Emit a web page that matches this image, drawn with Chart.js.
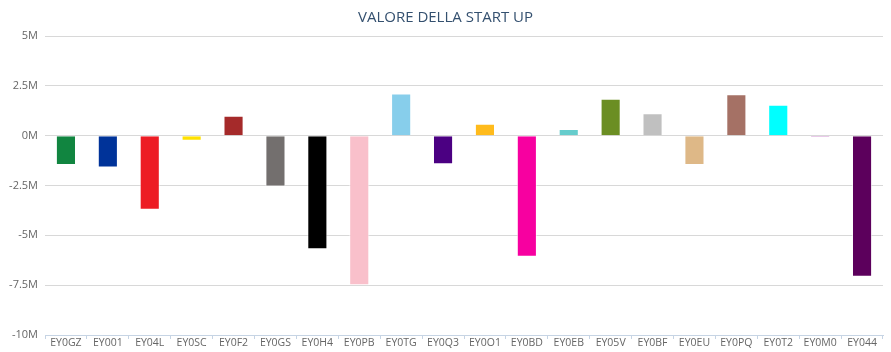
<!DOCTYPE html>
<html>
<head>
<meta charset="utf-8">
<script src="https://cdn.jsdelivr.net/npm/chart.js@4"></script>
<style>
  html, body { margin: 0; padding: 0; background: #fff; }
  #wrap { width: 891px; height: 352px; }
</style>
</head>
<body>
<div id="wrap"><canvas id="chart" width="891" height="352"></canvas></div>
<script>
/* ===== data ===== */
const categories = ["EY0GZ", "EY001", "EY04L", "EY0SC", "EY0F2", "EY0GS", "EY0H4", "EY0PB", "EY0TG", "EY0Q3",
  "EY0O1", "EY0BD", "EY0EB", "EY05V", "EY0BF", "EY0EU", "EY0PQ", "EY0T2", "EY0M0", "EY044"];
const values = [-1.47, -1.6, -3.72, -0.25, 1.0, -2.55, -5.7, -7.5, 2.12, -1.43,
  0.6, -6.07, 0.33, 1.85, 1.13, -1.47, 2.08, 1.55, -0.12, -7.08].map(v => v * 1e6);
const barColors = ["#118540", "#003399", "#ed1c24", "#ffe100", "#a52a2a", "#736f6e", "#000000", "#f9c0cb", "#87ceeb", "#4b0082",
  "#ffbb1c", "#f700a0", "#66cccc", "#6b8e23", "#c0c0c0", "#deb887", "#a57165", "#00ffff", "#d8a0d8", "#5c005c"];
const yTicks = [5e6, 2.5e6, 0, -2.5e6, -5e6, -7.5e6, -10e6];

/* ===== chart ===== */
new Chart(document.getElementById("chart"), {
  type: "bar",
  data: {
    labels: categories,
    datasets: [{
      data: values,
      backgroundColor: barColors,
      borderColor: "rgba(255,255,255,0.6)",
      borderWidth: 1,
      categoryPercentage: 0.48,
      barPercentage: 1
    }]
  },
  options: {
    responsive: false,
    animation: false,
    layout: { padding: { left: 8, right: 8, top: 0, bottom: 0 } },
    plugins: {
      legend: { display: false },
      tooltip: { enabled: false },
      title: {
        display: true,
        text: "VALORE DELLA START UP",
        color: "#34506f",
        font: { family: "Open Sans", size: 15, weight: "normal" },
        padding: { top: 9, bottom: 9 }
      }
    },
    scales: {
      x: {
        afterFit: axis => { axis.height = 17; },
        grid: {
          display: true,
          drawOnChartArea: false,
          color: "#c6d4e4",
          tickLength: 4,
          offset: true
        },
        border: { color: "#c6d4e4", width: 1 },
        ticks: {
          color: "#666",
          font: { family: "Open Sans", size: 10.5 },
          padding: -2,
          maxRotation: 0,
          autoSkip: false
        }
      },
      y: {
        min: -10e6,
        max: 5e6,
        afterBuildTicks: axis => { axis.ticks = yTicks.map(v => ({ value: v })); },
        afterFit: axis => { axis.width = 37; },
        grid: { color: "#d8d8d8", drawTicks: false, lineWidth: 1 },
        border: { display: false },
        ticks: {
          color: "#666",
          font: { family: "Open Sans", size: 11 },
          padding: 7,
          callback: v => (v / 1e6) + "M"
        }
      }
    }
  }
});
</script>
</body>
</html>
